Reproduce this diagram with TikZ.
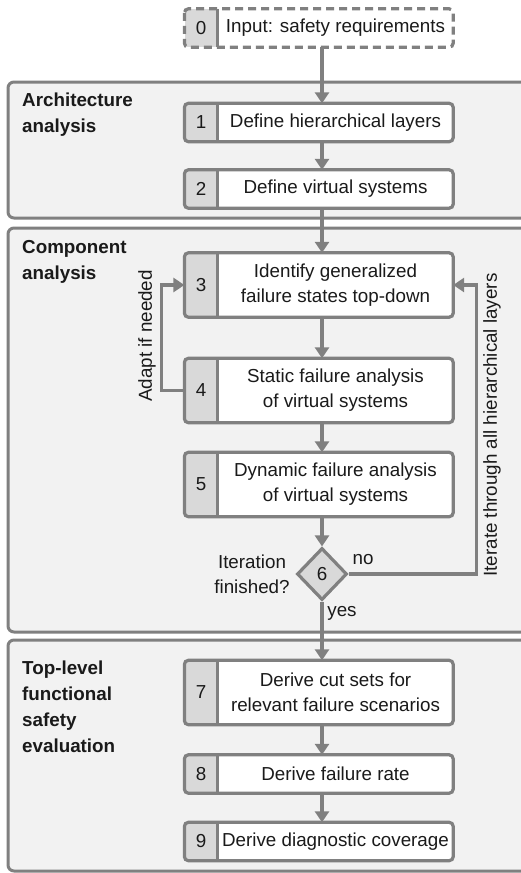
\documentclass[tikz,border=0pt]{standalone}
\usepackage{fontspec}
\setmainfont{Liberation Sans}
\usetikzlibrary{arrows.meta,shapes.geometric}
\definecolor{linegray}{HTML}{808080}
\definecolor{panelfill}{HTML}{F2F2F2}
\definecolor{cellfill}{HTML}{D9D9D9}
\definecolor{ink}{HTML}{1A1A1A}
\begin{document}
\begin{tikzpicture}[x=1pt,y=-1pt,
  txt/.style={font=\fontsize{18.8}{25}\selectfont, text=ink},
  panel/.style={draw=linegray, line width=3pt, fill=panelfill, rounded corners=6pt},
  paneltitle/.style={text=ink, font=\fontsize{18.8}{26}\selectfont\bfseries, align=left, anchor=north west, inner sep=0pt},
  stepbox/.style={txt, fill=white, minimum width=235pt, minimum height=#1, inner sep=0pt, align=center},
  numcell/.style={txt, fill=cellfill, minimum width=33pt, minimum height=#1, inner sep=0pt, anchor=east},
  frame/.style={draw=linegray, line width=3.2pt, rounded corners=4pt},
  dashframe/.style={frame, dash pattern=on 8pt off 5pt},
  sep/.style={draw=linegray, line width=3.2pt},
  flow/.style={draw=linegray, line width=3.4pt, -{Triangle[width=14pt,length=11pt]}},
  note/.style={txt, inner sep=0pt},
  decision/.style={txt, diamond, draw=linegray, line width=3.2pt, fill=cellfill, minimum width=50pt, minimum height=52pt, inner sep=0pt},
]
\useasboundingbox (0,0) rectangle (521,873);
\fill[white] (0,0) rectangle (521,873);

% phase panels
\path[panel] (8,82) rectangle (560,218);
\path[panel] (8,228) rectangle (560,632);
\path[panel] (8,640) rectangle (560,871);

\node[paneltitle] (t1) at (22,93) {Architecture\\analysis};
\node[paneltitle] (t2) at (22,240) {Component\\analysis};
\node[paneltitle] (t3) at (22,661) {Top-level\\functional\\safety\\evaluation};

% main flow axis
\coordinate (spine) at (322,0);

% step 0 (input)
\node[stepbox=38pt] (s0) at (335.5,28) {Input: safety requirements};
\node[numcell=38pt] (n0) at (s0.west) {0};
\draw[dashframe] (n0.north west) rectangle (s0.south east);
\draw[sep] (n0.north east) -- (n0.south east);

% steps 1-2
\node[stepbox=38pt] (s1) at (335.5,122.5) {Define hierarchical layers};
\node[numcell=38pt] (n1) at (s1.west) {1};
\draw[frame] (n1.north west) rectangle (s1.south east);
\draw[sep] (n1.north east) -- (n1.south east);

\node[stepbox=38pt] (s2) at (335.5,189) {Define virtual systems};
\node[numcell=38pt] (n2) at (s2.west) {2};
\draw[frame] (n2.north west) rectangle (s2.south east);
\draw[sep] (n2.north east) -- (n2.south east);

% steps 3-5
\node[stepbox=64pt] (s3) at (335.5,285) {Identify generalized\\failure states top-down};
\node[numcell=64pt] (n3) at (s3.west) {3};
\draw[frame] (n3.north west) rectangle (s3.south east);
\draw[sep] (n3.north east) -- (n3.south east);

\node[stepbox=64pt] (s4) at (335.5,390.5) {Static failure analysis\\of virtual systems};
\node[numcell=64pt] (n4) at (s4.west) {4};
\draw[frame] (n4.north west) rectangle (s4.south east);
\draw[sep] (n4.north east) -- (n4.south east);

\node[stepbox=64pt] (s5) at (335.5,484.5) {Dynamic failure analysis\\of virtual systems};
\node[numcell=64pt] (n5) at (s5.west) {5};
\draw[frame] (n5.north west) rectangle (s5.south east);
\draw[sep] (n5.north east) -- (n5.south east);

% step 6 (decision)
\node[decision] (d6) at (322,574) {6};
\node[note, align=center] (q6) at (252,574) {Iteration\\finished?};

% steps 7-9
\node[stepbox=64pt] (s7) at (335.5,692.5) {Derive cut sets for\\relevant failure scenarios};
\node[numcell=64pt] (n7) at (s7.west) {7};
\draw[frame] (n7.north west) rectangle (s7.south east);
\draw[sep] (n7.north east) -- (n7.south east);

\node[stepbox=38pt] (s8) at (335.5,774) {Derive failure rate};
\node[numcell=38pt] (n8) at (s8.west) {8};
\draw[frame] (n8.north west) rectangle (s8.south east);
\draw[sep] (n8.north east) -- (n8.south east);

\node[stepbox=38pt] (s9) at (335.5,841.5) {Derive diagnostic coverage};
\node[numcell=38pt] (n9) at (s9.west) {9};
\draw[frame] (n9.north west) rectangle (s9.south east);
\draw[sep] (n9.north east) -- (n9.south east);

% connectors
\draw[flow] (s0.south -| spine) -- (s1.north -| spine);
\draw[flow] (s1.south -| spine) -- (s2.north -| spine);
\draw[flow] (s2.south -| spine) -- (s3.north -| spine);
\draw[flow] (s3.south -| spine) -- (s4.north -| spine);
\draw[flow] (s4.south -| spine) -- (s5.north -| spine);
\draw[flow] (s5.south -| spine) -- (d6.north);
\draw[flow] (d6.south) -- (s7.north -| spine);
\draw[flow] (s7.south -| spine) -- (s8.north -| spine);
\draw[flow] (s8.south -| spine) -- (s9.north -| spine);

% feedback loops
\draw[flow] (n4.west) -- ++(-23,0) |- (n3.west);
\draw[flow] (d6.east) -- ++(128,0) |- (s3.east);

% loop labels
\node[note, rotate=90] (adapt) at (147,336) {Adapt if needed};
\node[note, rotate=90] (iter) at (492,425) {Iterate through all hierarchical layers};
\node[note] (no) at (363,560) {no};
\node[note] (yes) at (342,613) {yes};
\end{tikzpicture}
\end{document}
